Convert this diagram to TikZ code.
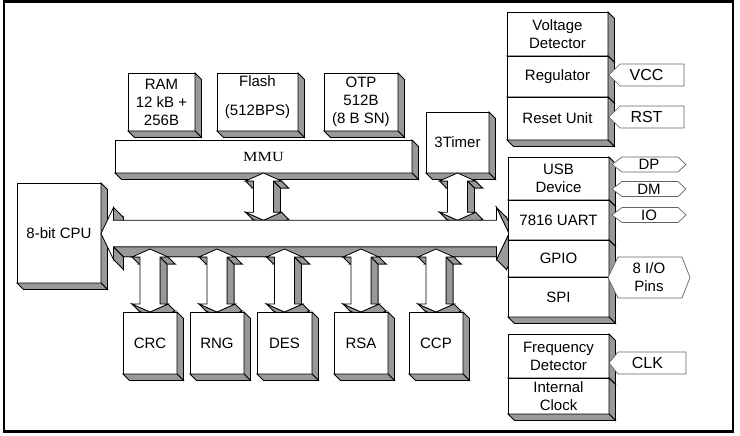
\documentclass[tikz,border=0pt]{standalone}
\usepackage{graphicx}
\usepackage{fontspec}
\setmainfont{Liberation Sans}
\newfontfamily\mmufont{Liberation Serif}
\usetikzlibrary{calc}
\definecolor{sh}{RGB}{153,153,153}
\definecolor{pinline}{RGB}{100,100,100}
\tikzset{
  blk/.style={draw=black, fill=white, line width=0.8pt, inner sep=0pt, outer sep=0pt,
    align=center, font=\fontsize{15}{18}\selectfont},
  sidef/.style={fill=sh, draw=black, line width=0.8pt},
  frontf/.style={fill=white, draw=black, line width=0.8pt},
  pin/.style={fill=white, draw=pinline, line width=0.7pt},
  pintext/.style={inner sep=0pt, align=center, font=\fontsize{15}{18}\selectfont},
  pinbig/.style={pintext, font=\fontsize{16}{18}\selectfont},
}
\newcommand\blk[6]{\node[blk, minimum width={(#4-#2)*1pt}, minimum height={(#5-#3)*1pt}] (#1) at ({(#2+#4)/2},{(#3+#5)/2}) {#6};}
\newcommand\boxsides[2][6.5]{%
  \fill[sidef] (#2.north east) -- ++(#1,#1) -- ($(#2.south east)+(#1,#1)$) -- (#2.south east) -- cycle;
  \fill[sidef] (#2.south west) -- (#2.south east) -- ++(#1,#1) -- ($(#2.south west)+(#1,#1)$) -- cycle;}
\newcommand\tenpoly[2]{\fill[#1] ($(p0)+(#2,#2)$) -- ($(p1)+(#2,#2)$) -- ($(p2)+(#2,#2)$) -- ($(p3)+(#2,#2)$) -- ($(p4)+(#2,#2)$) -- ($(p5)+(#2,#2)$) -- ($(p6)+(#2,#2)$) -- ($(p7)+(#2,#2)$) -- ($(p8)+(#2,#2)$) -- ($(p9)+(#2,#2)$) -- cycle;}
\newcommand\sq[3]{\fill[sidef] (#1) -- (#2) -- ($(#2)+(#3,#3)$) -- ($(#1)+(#3,#3)$) -- cycle;}
\newcommand\vdarrow[2]{%
  \path (#1) coordinate (p0) ++(-18,8) coordinate (p1)
    (#1) ++(-10,8) coordinate (p2)
    (#2) ++(-10,-8) coordinate (p3)
    (#2) ++(-18,-8) coordinate (p4)
    (#2) coordinate (p5)
    (#2) ++(18,-8) coordinate (p6)
    (#2) ++(10,-8) coordinate (p7)
    (#1) ++(10,8) coordinate (p8)
    (#1) ++(18,8) coordinate (p9);
  \tenpoly{sidef}{7}%
  \sq{p7}{p8}{7}\sq{p4}{p5}{7}\sq{p5}{p6}{7}\sq{p1}{p2}{7}\sq{p8}{p9}{7}%
  \tenpoly{frontf}{0}}
\newcommand\busarrow[2]{%
  \path (#1) coordinate (p0) ++(12.5,26) coordinate (p1)
    (#1) ++(12.5,13.25) coordinate (p2)
    (#2) ++(-12.5,13.25) coordinate (p3)
    (#2) ++(-12.5,26) coordinate (p4)
    (#2) coordinate (p5)
    (#2) ++(-12.5,-26) coordinate (p6)
    (#2) ++(-12.5,-13.25) coordinate (p7)
    (#1) ++(12.5,-13.25) coordinate (p8)
    (#1) ++(12.5,-26) coordinate (p9);
  \tenpoly{sidef}{10}%
  \sq{p1}{p2}{10}\sq{p2}{p3}{10}\sq{p4}{p5}{10}\sq{p5}{p6}{10}\sq{p8}{p9}{10}%
  \tenpoly{frontf}{0}}
\begin{document}
\begin{tikzpicture}[x=1pt,y=-1pt]
\useasboundingbox (0,0) rectangle (740,436);
\fill[white] (0,0) rectangle (740,436);
\draw[line width=2.5pt] (4,1.5) rectangle (733,431.5);

% memories
\blk{ram}{128}{73}{195}{131}{RAM\\12 kB +\\256B}\boxsides{ram}
\blk{flash}{217}{73}{298}{131}{}\boxsides{flash}
\node[pintext] (flashtxt) at ($(flash.center)+(0,-4.5)$) {Flash\\[11pt](512BPS)};
\blk{otp}{324}{73}{398}{131}{OTP\\512B\\(8 B SN)}\boxsides{otp}
\blk{mmu}{115}{140}{412}{173}{\mmufont\fontsize{14}{18}\selectfont\scalebox{1.16}[1]{MMU}}\boxsides{mmu}
\blk{timer}{426}{112}{489}{173}{3Timer}\boxsides{timer}

% bus coordinates
\coordinate (busL) at (101,233.5);
\coordinate (busR) at (509,233.5);
\coordinate (busTop) at (300,220.25);
\coordinate (busBot) at (300,249);

% upper connectors
\coordinate (a1t) at (mmu.south); \coordinate (a1b) at (mmu.south |- busTop);
\vdarrow{a1t}{a1b}
\coordinate (a2t) at (timer.south); \coordinate (a2b) at (timer.south |- busTop);
\vdarrow{a2t}{a2b}

% CPU
\blk{cpu}{17}{183}{101}{283}{8-bit CPU}\boxsides{cpu}

% bus
\busarrow{busL}{busR}

% lower units
\path (150,343) coordinate (ccrc) (217,343) coordinate (crng) (284.5,343) coordinate (cdes)
      (361,343) coordinate (crsa) (436,343) coordinate (cccp);
\coordinate (b1t) at (ccrc |- busBot); \coordinate (b1b) at (150,312);
\vdarrow{b1t}{b1b}
\blk{crc}{123}{312}{177}{374}{CRC}\boxsides{crc}
\coordinate (b2t) at (crng |- busBot); \coordinate (b2b) at (217,312);
\vdarrow{b2t}{b2b}
\blk{rng}{190}{312}{244}{374}{RNG}\boxsides{rng}
\coordinate (b3t) at (cdes |- busBot); \coordinate (b3b) at (284.5,312);
\vdarrow{b3t}{b3b}
\blk{des}{257}{312}{312}{374}{DES}\boxsides{des}
\coordinate (b4t) at (crsa |- busBot); \coordinate (b4b) at (361,312);
\vdarrow{b4t}{b4b}
\blk{rsa}{334}{312}{388}{374}{RSA}\boxsides{rsa}
\coordinate (b5t) at (cccp |- busBot); \coordinate (b5b) at (436,312);
\vdarrow{b5t}{b5b}
\blk{ccp}{409}{312}{463}{374}{CCP}\boxsides{ccp}

% right stacks
\blk{vd}{507}{12}{608}{56}{Voltage\\Detector}\boxsides{vd}
\blk{reg}{507}{56}{608}{97}{Regulator}\boxsides{reg}
\blk{rst}{507}{97}{608}{140}{Reset Unit}\boxsides{rst}

\blk{usb}{508}{157}{609}{200}{USB\\Device}\boxsides{usb}
\blk{uart}{508}{200}{609}{240}{7816 UART}\boxsides{uart}
\blk{gpio}{508}{240}{609}{277}{GPIO}\boxsides{gpio}
\blk{spi}{508}{277}{609}{317}{SPI}\boxsides{spi}

\blk{freq}{508}{334}{609}{378}{Frequency\\Detector}\boxsides{freq}
\blk{iclk}{508}{378}{609}{414}{Internal\\Clock}\boxsides{iclk}

% pins
\draw[pin] (609,75) -- (620,64) -- (684,64) -- (684,86) -- (620,86) -- cycle;
\node[pinbig] (vcc) at (646.5,75) {VCC};
\draw[pin] (609,117) -- (620,106) -- (684,106) -- (684,128) -- (620,128) -- cycle;
\node[pinbig] (rstpin) at (646.5,117) {RST};
\draw[pin] (612,164.5) -- (622,157) -- (678,157) -- (686,164.5) -- (678,172) -- (622,172) -- cycle;
\node[pintext] (dp) at (649,164.5) {DP};
\draw[pin] (612,189) -- (622,181.5) -- (678,181.5) -- (686,189) -- (678,196.5) -- (622,196.5) -- cycle;
\node[pintext] (dm) at (649,189) {DM};
\draw[pin] (612,215) -- (622,207.5) -- (678,207.5) -- (686,215) -- (678,222.5) -- (622,222.5) -- cycle;
\node[pintext] (io) at (649,215) {IO};
\draw[pin] (608,277.5) -- (618,257) -- (682,257) -- (690,277.5) -- (682,298) -- (618,298) -- cycle;
\node[pintext] (iopins) at (649,277.5) {8 I/O\\Pins};
\draw[pin] (609,363) -- (618,352) -- (686,352) -- (686,374) -- (618,374) -- cycle;
\node[pinbig] (clk) at (647.5,363) {CLK};
\end{tikzpicture}
\end{document}
